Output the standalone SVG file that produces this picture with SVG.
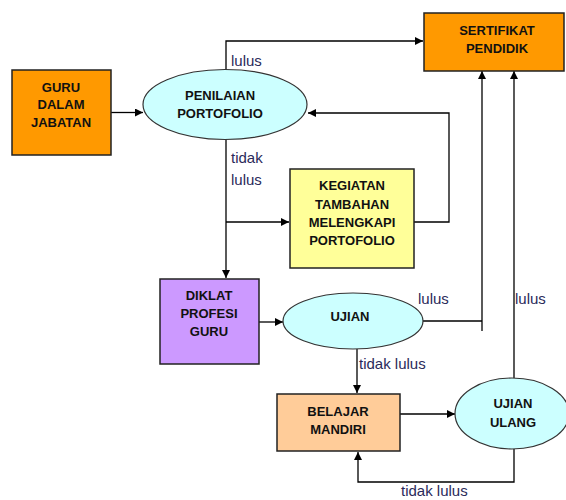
<svg xmlns="http://www.w3.org/2000/svg" width="566" height="500" viewBox="0 0 566 500">
<defs>
<marker id="ah" viewBox="0 0 10 10" refX="10" refY="5" markerWidth="8" markerHeight="8" markerUnits="userSpaceOnUse" orient="auto">
<path d="M0,0 L10,5 L0,10 z" fill="#000"/>
</marker>
<style>
.box{stroke:#222;stroke-width:1.5}
.ell{fill:#CCFFFF;stroke:#333;stroke-width:1.2}
.nt{font-family:"Liberation Sans",Arial,sans-serif;font-weight:bold;font-size:13px;fill:#111;text-anchor:middle}
.lb{font-family:"Liberation Sans",Arial,sans-serif;font-size:15px;fill:#2a2a5a}
.cn{fill:none;stroke:#000;stroke-width:1.3}
</style>
</defs>
<rect width="566" height="500" fill="#fff"/>
<g id="connectors">
<line class="cn" x1="111" y1="112.5" x2="143" y2="112.5" marker-end="url(#ah)"/>
<polyline class="cn" points="226,70 226,41 423,41" marker-end="url(#ah)"/>
<line class="cn" x1="226" y1="139" x2="226" y2="278" marker-end="url(#ah)"/>
<line class="cn" x1="226" y1="222" x2="289" y2="222" marker-end="url(#ah)"/>
<polyline class="cn" points="414,222 449,222 449,113 308,113" marker-end="url(#ah)"/>
<line class="cn" x1="259" y1="322" x2="283" y2="322" marker-end="url(#ah)"/>
<polyline class="cn" points="423,321 482,321"/>
<line class="cn" x1="482" y1="331" x2="482" y2="71" marker-end="url(#ah)"/>
<line class="cn" x1="514" y1="378" x2="514" y2="71" marker-end="url(#ah)"/>
<line class="cn" x1="357" y1="349" x2="357" y2="393" marker-end="url(#ah)"/>
<line class="cn" x1="400" y1="414" x2="455" y2="414" marker-end="url(#ah)"/>
<polyline class="cn" points="514,449 514,482 358,482 358,452" marker-end="url(#ah)"/>
<text class="lb" x="231" y="66">lulus</text>
<text class="lb" x="231" y="163">tidak</text>
<text class="lb" x="231" y="185">lulus</text>
<text class="lb" x="418" y="304">lulus</text>
<text class="lb" x="515" y="304">lulus</text>
<text class="lb" x="359" y="369">tidak lulus</text>
<text class="lb" x="401" y="496">tidak lulus</text>
</g>
<g id="guru">
<rect class="box" x="12" y="70" width="99" height="85" fill="#FF9900"/>
<text class="nt" x="61" y="92">GURU</text>
<text class="nt" x="61" y="109">DALAM</text>
<text class="nt" x="61" y="127">JABATAN</text>
</g>
<g id="penilaian">
<ellipse class="ell" cx="225" cy="104.5" rx="82" ry="35"/>
<text class="nt" x="220" y="100">PENILAIAN</text>
<text class="nt" x="220" y="118">PORTOFOLIO</text>
</g>
<g id="sertifikat">
<rect class="box" x="424" y="13" width="140" height="58" fill="#FF9900"/>
<text class="nt" x="497" y="35">SERTIFIKAT</text>
<text class="nt" x="497" y="53">PENDIDIK</text>
</g>
<g id="kegiatan">
<rect class="box" x="290" y="169" width="124" height="99" fill="#FFFF99"/>
<text class="nt" x="352" y="190">KEGIATAN</text>
<text class="nt" x="352" y="209">TAMBAHAN</text>
<text class="nt" x="352" y="227">MELENGKAPI</text>
<text class="nt" x="352" y="245">PORTOFOLIO</text>
</g>
<g id="diklat">
<rect class="box" x="160" y="279" width="99" height="85" fill="#CC99FF"/>
<text class="nt" x="209" y="300">DIKLAT</text>
<text class="nt" x="209" y="318">PROFESI</text>
<text class="nt" x="209" y="336">GURU</text>
</g>
<g id="ujian">
<ellipse class="ell" cx="353" cy="321" rx="70" ry="28"/>
<text class="nt" x="350" y="321">UJIAN</text>
</g>
<g id="belajar">
<rect class="box" x="277" y="394" width="123" height="57" fill="#FFCC99"/>
<text class="nt" x="338" y="416">BELAJAR</text>
<text class="nt" x="338" y="434">MANDIRI</text>
</g>
<g id="ujian-ulang">
<ellipse class="ell" cx="512" cy="413.5" rx="57" ry="35.5"/>
<text class="nt" x="513" y="408">UJIAN</text>
<text class="nt" x="513" y="427">ULANG</text>
</g>
</svg>
